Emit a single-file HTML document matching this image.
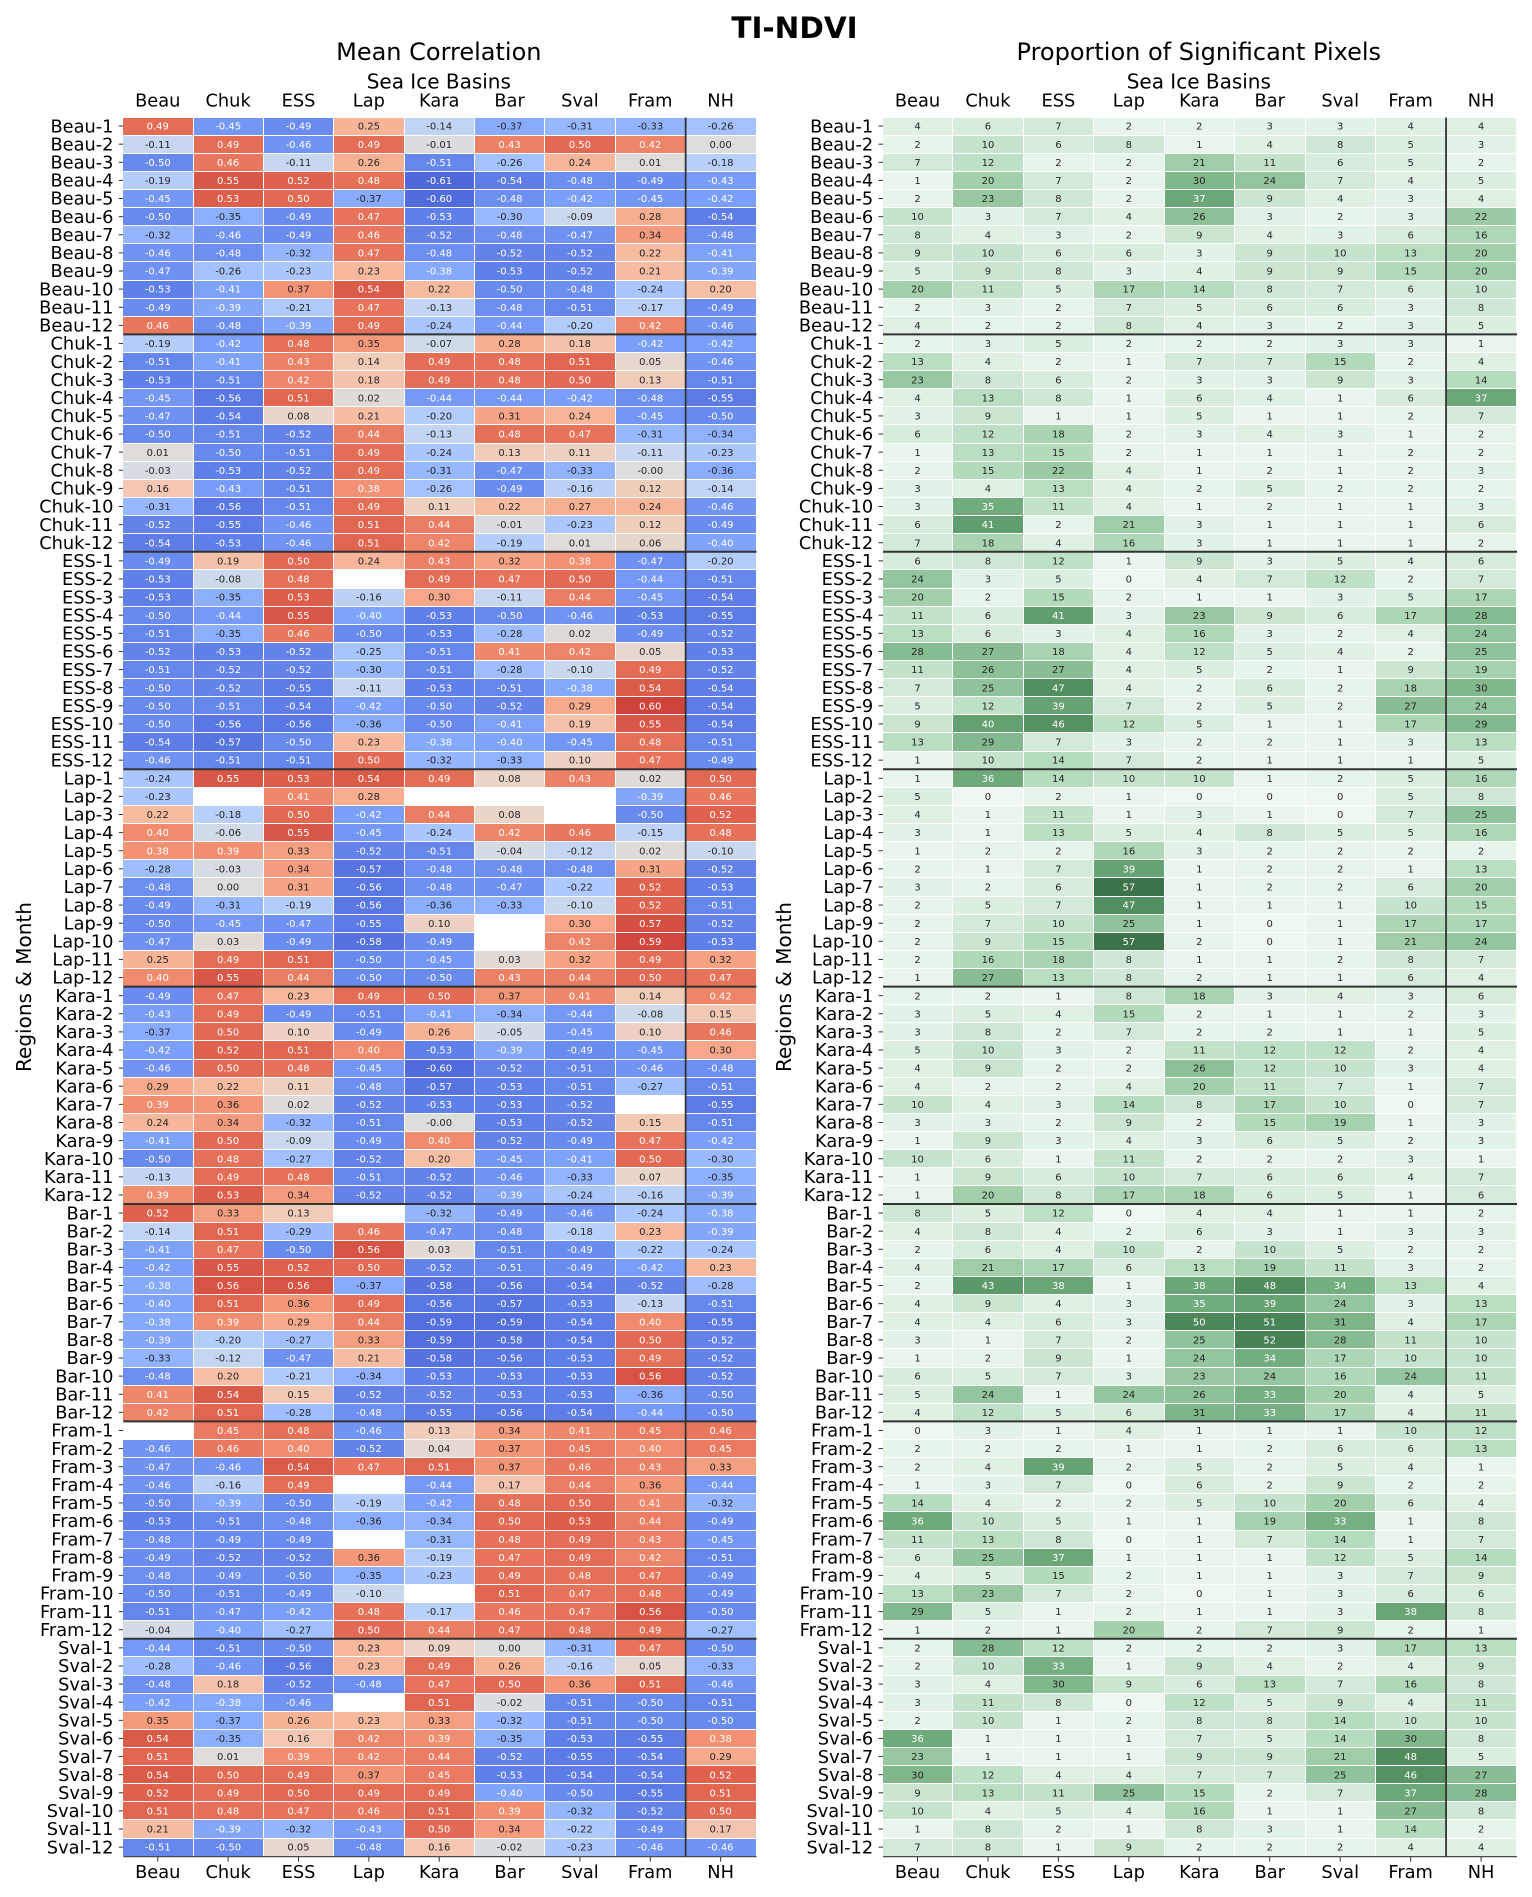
<!DOCTYPE html>
<html lang="en">
<head>
<meta charset="utf-8">
<title>TI-NDVI</title>
<style>
html,body{margin:0;padding:0;background:#fff;}
svg{display:block;font-family:"DejaVu Sans","Liberation Sans",sans-serif;}
</style>
</head>
<body>
<svg id="figure" xmlns="http://www.w3.org/2000/svg" width="1532" height="1897" viewBox="0 0 1532 1897">
<rect x="0" y="0" width="1532" height="1897" fill="#ffffff"/>
<text x="794.5" y="38" font-size="29.5" font-weight="bold" text-anchor="middle" fill="#000">TI-NDVI</text>
<text x="438.8" y="60" font-size="24" text-anchor="middle" fill="#000">Mean Correlation</text>
<text x="1198.8" y="60" font-size="24" text-anchor="middle" fill="#000">Proportion of Significant Pixels</text>
<text x="438.8" y="88.5" font-size="20" text-anchor="middle" fill="#000">Sea Ice Basins</text>
<text x="1198.8" y="88.5" font-size="20" text-anchor="middle" fill="#000">Sea Ice Basins</text>
<text transform="translate(31,987) rotate(-90)" font-size="20" text-anchor="middle" fill="#000">Regions &amp; Month</text>
<text transform="translate(791,987) rotate(-90)" font-size="20" text-anchor="middle" fill="#000">Regions &amp; Month</text>
<g id="left-panel"></g>
<g id="right-panel"></g>
</svg>
<script>
const regions = ['Beau','Chuk','ESS','Lap','Kara','Bar','Fram','Sval'];
const months = [1,2,3,4,5,6,7,8,9,10,11,12];
const basins = ['Beau','Chuk','ESS','Lap','Kara','Bar','Sval','Fram','NH'];

const corrBeau = [
[.49,-.45,-.49,.25,-.14,-.37,-.31,-.33,-.26],
[-.11,.49,-.46,.49,-.01,.43,.50,.42,0],
[-.50,.46,-.11,.26,-.51,-.26,.24,.01,-.18],
[-.19,.55,.52,.48,-.61,-.54,-.48,-.49,-.43],
[-.45,.53,.50,-.37,-.60,-.48,-.42,-.45,-.42],
[-.50,-.35,-.49,.47,-.53,-.30,-.09,.28,-.54],
[-.32,-.46,-.49,.46,-.52,-.48,-.47,.34,-.48],
[-.46,-.48,-.32,.47,-.48,-.52,-.52,.22,-.41],
[-.47,-.26,-.23,.23,-.38,-.53,-.52,.21,-.39],
[-.53,-.41,.37,.54,.22,-.50,-.48,-.24,.20],
[-.49,-.39,-.21,.47,-.13,-.48,-.51,-.17,-.49],
[.46,-.48,-.39,.49,-.24,-.44,-.20,.42,-.46]];
const corrChuk = [
[-.19,-.42,.48,.35,-.07,.28,.18,-.42,-.42],
[-.51,-.41,.43,.14,.49,.48,.51,.05,-.46],
[-.53,-.51,.42,.18,.49,.48,.50,.13,-.51],
[-.45,-.56,.51,.02,-.44,-.44,-.42,-.48,-.55],
[-.47,-.54,.08,.21,-.20,.31,.24,-.45,-.50],
[-.50,-.51,-.52,.44,-.13,.48,.47,-.31,-.34],
[.01,-.50,-.51,.49,-.24,.13,.11,-.11,-.23],
[-.03,-.53,-.52,.49,-.31,-.47,-.33,-.001,-.36],
[.16,-.43,-.51,.38,-.26,-.49,-.16,.12,-.14],
[-.31,-.56,-.51,.49,.11,.22,.27,.24,-.46],
[-.52,-.55,-.46,.51,.44,-.01,-.23,.12,-.49],
[-.54,-.53,-.46,.51,.42,-.19,.01,.06,-.40]];
const corrESS = [
[-.49,.19,.50,.24,.43,.32,.38,-.47,-.20],
[-.53,-.08,.48,null,.49,.47,.50,-.44,-.51],
[-.53,-.35,.53,-.16,.30,-.11,.44,-.45,-.54],
[-.50,-.44,.55,-.40,-.53,-.50,-.46,-.53,-.55],
[-.51,-.35,.46,-.50,-.53,-.28,.02,-.49,-.52],
[-.52,-.53,-.52,-.25,-.51,.41,.42,.05,-.53],
[-.51,-.52,-.52,-.30,-.51,-.28,-.10,.49,-.52],
[-.50,-.52,-.55,-.11,-.53,-.51,-.38,.54,-.54],
[-.50,-.51,-.54,-.42,-.50,-.52,.29,.60,-.54],
[-.50,-.56,-.56,-.36,-.50,-.41,.19,.55,-.54],
[-.54,-.57,-.50,.23,-.38,-.40,-.45,.48,-.51],
[-.46,-.51,-.51,.50,-.32,-.33,.10,.47,-.49]];
const corrLap = [
[-.24,.55,.53,.54,.49,.08,.43,.02,.50],
[-.23,null,.41,.28,null,null,null,-.39,.46],
[.22,-.18,.50,-.42,.44,.08,null,-.50,.52],
[.40,-.06,.55,-.45,-.24,.42,.46,-.15,.48],
[.38,.39,.33,-.52,-.51,-.04,-.12,.02,-.10],
[-.28,-.03,.34,-.57,-.48,-.48,-.48,.31,-.52],
[-.48,0,.31,-.56,-.48,-.47,-.22,.52,-.53],
[-.49,-.31,-.19,-.56,-.36,-.33,-.10,.52,-.51],
[-.50,-.45,-.47,-.55,.10,null,.30,.57,-.52],
[-.47,.03,-.49,-.58,-.49,null,.42,.59,-.53],
[.25,.49,.51,-.50,-.45,.03,.32,.49,.32],
[.40,.55,.44,-.50,-.50,.43,.44,.50,.47]];
const corrKara = [
[-.49,.47,.23,.49,.50,.37,.41,.14,.42],
[-.43,.49,-.49,-.51,-.41,-.34,-.44,-.08,.15],
[-.37,.50,.10,-.49,.26,-.05,-.45,.10,.46],
[-.42,.52,.51,.40,-.53,-.39,-.49,-.45,.30],
[-.46,.50,.48,-.45,-.60,-.52,-.51,-.46,-.48],
[.29,.22,.11,-.48,-.57,-.53,-.51,-.27,-.51],
[.39,.36,.02,-.52,-.53,-.53,-.52,null,-.55],
[.24,.34,-.32,-.51,-.001,-.53,-.52,.15,-.51],
[-.41,.50,-.09,-.49,.40,-.52,-.49,.47,-.42],
[-.50,.48,-.27,-.52,.20,-.45,-.41,.50,-.30],
[-.13,.49,.48,-.51,-.52,-.46,-.33,.07,-.35],
[.39,.53,.34,-.52,-.52,-.39,-.24,-.16,-.39]];
const corrBar = [
[.52,.33,.13,null,-.32,-.49,-.46,-.24,-.38],
[-.14,.51,-.29,.46,-.47,-.48,-.18,.23,-.39],
[-.41,.47,-.50,.56,.03,-.51,-.49,-.22,-.24],
[-.42,.55,.52,.50,-.52,-.51,-.49,-.42,.23],
[-.38,.56,.56,-.37,-.58,-.56,-.54,-.52,-.28],
[-.40,.51,.36,.49,-.56,-.57,-.53,-.13,-.51],
[-.38,.39,.29,.44,-.59,-.59,-.54,.40,-.55],
[-.39,-.20,-.27,.33,-.59,-.58,-.54,.50,-.52],
[-.33,-.12,-.47,.21,-.58,-.56,-.53,.49,-.52],
[-.48,.20,-.21,-.34,-.53,-.53,-.53,.56,-.52],
[.41,.54,.15,-.52,-.52,-.53,-.53,-.36,-.50],
[.42,.51,-.28,-.48,-.55,-.56,-.54,-.44,-.50]];
const corrFram = [
[null,.45,.48,-.46,.13,.34,.41,.45,.46],
[-.46,.46,.40,-.52,.04,.37,.45,.40,.45],
[-.47,-.46,.54,.47,.51,.37,.46,.43,.33],
[-.46,-.16,.49,null,-.44,.17,.44,.36,-.44],
[-.50,-.39,-.50,-.19,-.42,.48,.50,.41,-.32],
[-.53,-.51,-.48,-.36,-.34,.50,.53,.44,-.49],
[-.48,-.49,-.49,null,-.31,.48,.49,.43,-.45],
[-.49,-.52,-.52,.36,-.19,.47,.49,.42,-.51],
[-.48,-.49,-.50,-.35,-.23,.49,.48,.47,-.49],
[-.50,-.51,-.49,-.10,null,.51,.47,.48,-.49],
[-.51,-.47,-.42,.48,-.17,.46,.47,.56,-.50],
[-.04,-.40,-.27,.50,.44,.47,.48,.49,-.27]];
const corrSval = [
[-.44,-.51,-.50,.23,.09,0,-.31,.47,-.50],
[-.28,-.46,-.56,.23,.49,.26,-.16,.05,-.33],
[-.48,.18,-.52,-.48,.47,.50,.36,.51,-.46],
[-.42,-.38,-.46,null,.51,-.02,-.51,-.50,-.51],
[.35,-.37,.26,.23,.33,-.32,-.51,-.50,-.50],
[.54,-.35,.16,.42,.39,-.35,-.53,-.55,.38],
[.51,.01,.39,.42,.44,-.52,-.55,-.54,.29],
[.54,.50,.49,.37,.45,-.53,-.54,-.54,.52],
[.52,.49,.50,.49,.49,-.40,-.50,-.55,.51],
[.51,.48,.47,.46,.51,.39,-.32,-.52,.50],
[.21,-.39,-.32,-.43,.50,.34,-.22,-.49,.17],
[-.51,-.50,.05,-.48,.16,-.02,-.23,-.46,-.46]];

const sigBeau = [
[4,6,7,2,2,3,3,4,4],
[2,10,6,8,1,4,8,5,3],
[7,12,2,2,21,11,6,5,2],
[1,20,7,2,30,24,7,4,5],
[2,23,8,2,37,9,4,3,4],
[10,3,7,4,26,3,2,3,22],
[8,4,3,2,9,4,3,6,16],
[9,10,6,6,3,9,10,13,20],
[5,9,8,3,4,9,9,15,20],
[20,11,5,17,14,8,7,6,10],
[2,3,2,7,5,6,6,3,8],
[4,2,2,8,4,3,2,3,5]];
const sigChuk = [
[2,3,5,2,2,2,3,3,1],
[13,4,2,1,7,7,15,2,4],
[23,8,6,2,3,3,9,3,14],
[4,13,8,1,6,4,1,6,37],
[3,9,1,1,5,1,1,2,7],
[6,12,18,2,3,4,3,1,2],
[1,13,15,2,1,1,1,2,2],
[2,15,22,4,1,2,1,2,3],
[3,4,13,4,2,5,2,2,2],
[3,35,11,4,1,2,1,1,3],
[6,41,2,21,3,1,1,1,6],
[7,18,4,16,3,1,1,1,2]];
const sigESS = [
[6,8,12,1,9,3,5,4,6],
[24,3,5,0,4,7,12,2,7],
[20,2,15,2,1,1,3,5,17],
[11,6,41,3,23,9,6,17,28],
[13,6,3,4,16,3,2,4,24],
[28,27,18,4,12,5,4,2,25],
[11,26,27,4,5,2,1,9,19],
[7,25,47,4,2,6,2,18,30],
[5,12,39,7,2,5,2,27,24],
[9,40,46,12,5,1,1,17,29],
[13,29,7,3,2,2,1,3,13],
[1,10,14,7,2,1,1,1,5]];
const sigLap = [
[1,36,14,10,10,1,2,5,16],
[5,0,2,1,0,0,0,5,8],
[4,1,11,1,3,1,0,7,25],
[3,1,13,5,4,8,5,5,16],
[1,2,2,16,3,2,2,2,2],
[2,1,7,39,1,2,2,1,13],
[3,2,6,57,1,2,2,6,20],
[2,5,7,47,1,1,1,10,15],
[2,7,10,25,1,0,1,17,17],
[2,9,15,57,2,0,1,21,24],
[2,16,18,8,1,1,2,8,7],
[1,27,13,8,2,1,1,6,4]];
const sigKara = [
[2,2,1,8,18,3,4,3,6],
[3,5,4,15,2,1,1,2,3],
[3,8,2,7,2,2,1,1,5],
[5,10,3,2,11,12,12,2,4],
[4,9,2,2,26,12,10,3,4],
[4,2,2,4,20,11,7,1,7],
[10,4,3,14,8,17,10,0,7],
[3,3,2,9,2,15,19,1,3],
[1,9,3,4,3,6,5,2,3],
[10,6,1,11,2,2,2,3,1],
[1,9,6,10,7,6,6,4,7],
[1,20,8,17,18,6,5,1,6]];
const sigBar = [
[8,5,12,0,4,4,1,1,2],
[4,8,4,2,6,3,1,3,3],
[2,6,4,10,2,10,5,2,2],
[4,21,17,6,13,19,11,3,2],
[2,43,38,1,38,48,34,13,4],
[4,9,4,3,35,39,24,3,13],
[4,4,6,3,50,51,31,4,17],
[3,1,7,2,25,52,28,11,10],
[1,2,9,1,24,34,17,10,10],
[6,5,7,3,23,24,16,24,11],
[5,24,1,24,26,33,20,4,5],
[4,12,5,6,31,33,17,4,11]];
const sigFram = [
[0,3,1,4,1,1,1,10,12],
[2,2,2,1,1,2,6,6,13],
[2,4,39,2,5,2,5,4,1],
[1,3,7,0,6,2,9,2,2],
[14,4,2,2,5,10,20,6,4],
[36,10,5,1,1,19,33,1,8],
[11,13,8,0,1,7,14,1,7],
[6,25,37,1,1,1,12,5,14],
[4,5,15,2,1,1,3,7,9],
[13,23,7,2,0,1,3,6,6],
[29,5,1,2,1,1,3,38,8],
[1,2,1,20,2,7,9,2,1]];
const sigSval = [
[2,28,12,2,2,2,3,17,13],
[2,10,33,1,9,4,2,4,9],
[3,4,30,9,6,13,7,16,8],
[3,11,8,0,12,5,9,4,11],
[2,10,1,2,8,8,14,10,10],
[36,1,1,1,7,5,14,30,8],
[23,1,1,1,9,9,21,48,5],
[30,12,4,4,7,7,25,46,27],
[9,13,11,25,15,2,7,37,28],
[10,4,5,4,16,1,1,27,8],
[1,8,2,1,8,3,1,14,2],
[7,8,1,9,2,2,2,4,4]];

const corrByRegion = [corrBeau,corrChuk,corrESS,corrLap,corrKara,corrBar,corrFram,corrSval];
const sigByRegion = [sigBeau,sigChuk,sigESS,sigLap,sigKara,sigBar,sigFram,sigSval];

const SVG_NS = 'http://www.w3.org/2000/svg';
const COOL_R = [.2298057,.26623388,.30386891,.342804478,.38301334,.424369608,.46666708,.509635204,.552953156,.596262162,.639176211,.681291281,.722193294,.761464949,.798691636,.833466556,.865395197,.897787179,.924127593,.944468518,.958852946,.96732803,.969954137,.966811177,.958003065,.943660866,.923944917,.89904617,.869186849,.834620542,.795631745,.752534934,.705673158];
const COOL_G = [.298717966,.353094838,.406535296,.458757618,.50941904,.558148092,.604562568,.648280772,.688929332,.726149107,.759599947,.788964712,.813952739,.834302879,.849786142,.860207984,.86541021,.848937047,.827384882,.800927443,.769767752,.734132809,.694266682,.650421156,.602842431,.551750968,.49730856,.439559467,.378313092,.312874446,.24128379,.157246067,.01555616];
const COOL_B = [.753683153,.801466763,.84495867,.883725899,.917387822,.945619588,.968154911,.98478814,.995375608,.999836203,.998151185,.990363227,.976574709,.956945269,.931688648,.901068838,.865395561,.820880546,.774508472,.726736146,.678007945,.628751763,.579375448,.530263762,.481775914,.434243684,.387970225,.343229596,.300267182,.259301199,.220525627,.184115123,.150232812];

function lerpLut(lut, t){
  const p = Math.max(0, Math.min(1, t)) * (lut.length - 1);
  const i = Math.min(lut.length - 2, Math.floor(p));
  return lut[i] + (lut[i + 1] - lut[i]) * (p - i);
}
function corrColor(v){
  const t = 0.5 + 0.5 * v / 0.7;
  const r = Math.round(lerpLut(COOL_R, t) * 255);
  const g = Math.round(lerpLut(COOL_G, t) * 255);
  const b = Math.round(lerpLut(COOL_B, t) * 255);
  return 'rgb(' + r + ',' + g + ',' + b + ')';
}
const GREEN_KNOTS = [
 {v:0,c:[238,247,240]},{v:1,c:[234,246,237]},{v:5,c:[220,238,224]},{v:10,c:[198,228,205]},
 {v:15,c:[178,218,187]},{v:20,c:[162,208,171]},{v:25,c:[143,195,155]},{v:30,c:[128,183,139]},
 {v:35,c:[112,172,124]},{v:40,c:[100,160,112]},{v:47,c:[82,143,94]},{v:57,c:[60,115,73]}];
function sigColor(v){
  let k = 0;
  while (k < GREEN_KNOTS.length - 2 && v > GREEN_KNOTS[k + 1].v) k++;
  const a = GREEN_KNOTS[k], b = GREEN_KNOTS[k + 1];
  const t = Math.max(0, Math.min(1, (v - a.v) / (b.v - a.v)));
  return 'rgb(' + a.c.map((x, i) => Math.round(x + (b.c[i] - x) * t)).join(',') + ')';
}
function corrText(v){ return v.toFixed(2); }
function sigText(v){ return String(v); }
function corrInk(v){ return Math.abs(v) >= 0.38 ? '#ffffff' : '#262626'; }
function sigInk(v){ return v >= 33 ? '#ffffff' : '#262626'; }

function makeEl(parent, tag, attrs, text){
  const el = document.createElementNS(SVG_NS, tag);
  for (const k in attrs) el.setAttribute(k, attrs[k]);
  if (text !== undefined) el.textContent = text;
  parent.appendChild(el);
  return el;
}

function drawPanel(root, opts){
  const rowCount = regions.length * months.length;
  const xScale = c => opts.x0 + c * (opts.x1 - opts.x0) / basins.length;
  const yScale = r => opts.y0 + r * (opts.y1 - opts.y0) / rowCount;

  basins.forEach((name, c) => {
    const cx = (xScale(c) + xScale(c + 1)) / 2 - 0.7;
    const top = makeEl(root, 'text', {x: cx, y: 106.4, 'font-size': 17.8, 'text-anchor': 'middle', fill: '#000'}, name);
    
    
    const bottom = makeEl(root, 'text', {x: cx, y: 1877.8, 'font-size': 17.8, 'text-anchor': 'middle', fill: '#000'}, name);
    
    
    const tick = makeEl(root, 'line', {x1: cx, x2: cx, y1: opts.y1, y2: opts.y1 + 5, stroke: '#333', 'stroke-width': 1});
    
    
  });

  regions.forEach((region, g) => {
    months.forEach((month, m) => {
      const r = g * months.length + m;
      const cy = (yScale(r) + yScale(r + 1)) / 2;
      const label = makeEl(root, 'text', {x: opts.x0 - 9.8, y: cy + 5.7, 'font-size': 17.8, 'text-anchor': 'end', fill: '#000'}, region + '-' + month);
      
      
      const tick = makeEl(root, 'line', {x1: opts.x0 - 4.5, x2: opts.x0, y1: cy - 0.5, y2: cy - 0.5, stroke: '#333', 'stroke-width': 1});
      
      

      opts.data[g][m].forEach((v, c) => {
        if (v === null) return;
        const left = Math.round(xScale(c));
        const right = Math.round(xScale(c + 1));
        const top = Math.round(yScale(r));
        const bottom = Math.round(yScale(r + 1));
        const cell = makeEl(root, 'rect', {x: left, y: top, width: right - left - 1, height: bottom - top - 1, fill: opts.color(v), 'shape-rendering': 'crispEdges'});
        
        
        const cx = (xScale(c) + xScale(c + 1)) / 2 - 0.7;
        const note = makeEl(root, 'text', {x: cx, y: cy + 3.1, 'font-size': 10, 'text-anchor': 'middle', fill: opts.ink(v)}, opts.text(v));
        
        
      });
    });
  });

  for (let g = 1; g < regions.length; g++) {
    const y = yScale(g * months.length);
    const sep = makeEl(root, 'line', {x1: opts.x0, x2: opts.x1, y1: y - 0.5, y2: y - 0.5, stroke: '#333', 'stroke-width': 2});
    
    
  }
  const divX = xScale(basins.length - 1) - 0.5;
  const divider = makeEl(root, 'line', {x1: divX, x2: divX, y1: opts.y0, y2: opts.y1, stroke: '#333', 'stroke-width': 1.8});
  
  
  const base = makeEl(root, 'line', {x1: opts.x0, x2: opts.x1, y1: opts.y1, y2: opts.y1, stroke: '#333', 'stroke-width': 1.2});
  
  
}

drawPanel(document.getElementById('left-panel'), {
  x0: 123.3, x1: 756.5, y0: 117.5, y1: 1856.7,
  data: corrByRegion, color: corrColor, ink: corrInk, text: corrText
});
drawPanel(document.getElementById('right-panel'), {
  x0: 883, x1: 1517, y0: 117.5, y1: 1856.7,
  data: sigByRegion, color: sigColor, ink: sigInk, text: sigText
});
</script>
</body>
</html>
